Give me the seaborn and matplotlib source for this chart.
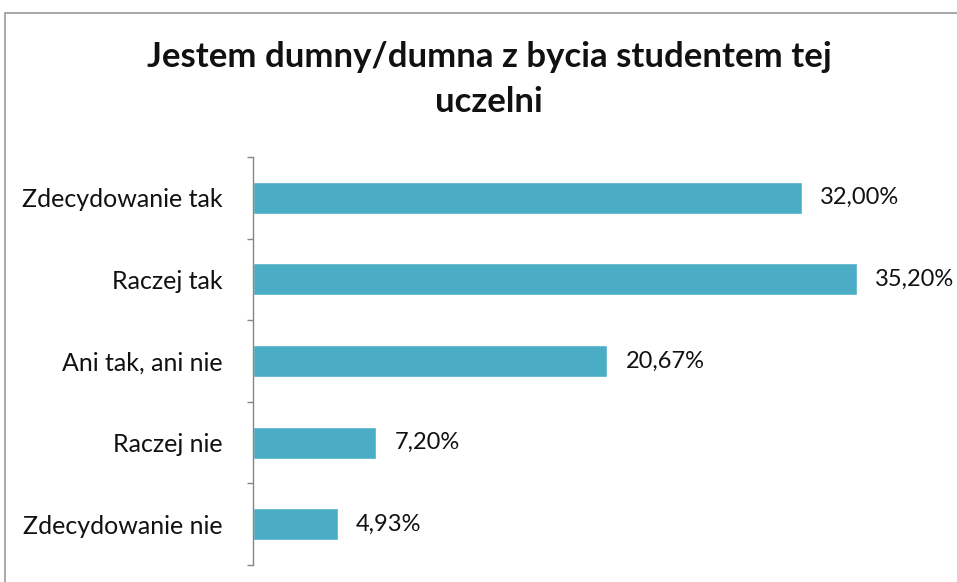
import matplotlib
matplotlib.use("Agg")
import matplotlib.pyplot as plt
import pandas as pd
import seaborn as sns
from matplotlib.patches import Rectangle
from matplotlib.ticker import FixedLocator

# Data
categories = ["Zdecydowanie tak", "Raczej tak", "Ani tak, ani nie", "Raczej nie", "Zdecydowanie nie"]
values = [32.00, 35.20, 20.67, 7.20, 4.93]
title = "Jestem dumny/dumna z bycia studentem tej\nuczelni"

df = pd.DataFrame({"category": categories, "value": values})

sns.set_style("white")
plt.rcParams["font.family"] = ["Lato", "DejaVu Sans"]

fig = plt.figure(figsize=(9.57, 5.82), dpi=100)
ax = fig.add_axes([253 / 957, 1 - 565 / 582, (939 - 253) / 957, (565 - 157) / 582])

sns.barplot(data=df, x="value", y="category", orient="h", color="#4bacc6",
            saturation=1, width=0.39, ax=ax)

ax.set_xlim(0, 40)
ax.set_ylim(4.5, -0.5)
ax.set_xlabel("")
ax.set_ylabel("")
ax.set_xticks([])

# spines: only the left category axis
for side in ["top", "right", "bottom"]:
    ax.spines[side].set_visible(False)
ax.spines["left"].set_color("#868686")
ax.spines["left"].set_linewidth(1.0)

# tick labels at centres, tick marks at category boundaries
ax.tick_params(axis="y", which="major", left=True, length=0, pad=22, labelsize=18, labelcolor="#111111")
ax.yaxis.set_minor_locator(FixedLocator([i - 0.5 for i in range(len(categories) + 1)]))
ax.tick_params(axis="y", which="minor", left=True, length=4.5, width=1.0, color="#868686", direction="out")

# value labels
labels = [f"{v:.2f}%".replace(".", ",") for v in values]
ax.bar_label(ax.containers[0], labels=labels, padding=13, fontsize=17, color="#111111")

fig.text(0.511, 0.864, title, ha="center", va="center", fontsize=25, fontweight="bold",
         linespacing=1.5, color="#111111")

# outer chart frame (partly cropped in the reference)
fig.patches.append(Rectangle((5 / 957, -0.1), 1.2, 1.1 - 13 / 582, transform=fig.transFigure,
                             fill=False, edgecolor="#9a9a9a", linewidth=1.2))

fig.savefig("out.png", dpi=100)
